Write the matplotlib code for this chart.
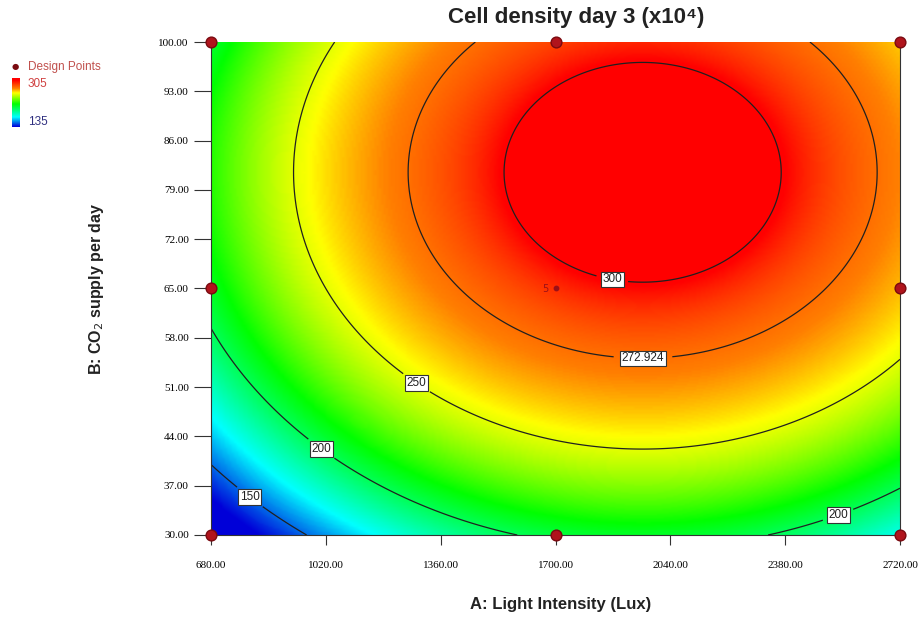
import numpy as np
import matplotlib
matplotlib.use("Agg")
from matplotlib import pyplot as plt
from matplotlib.colors import LinearSegmentedColormap

# axis ranges / ticks
a_ticks = [680, 1020, 1360, 1700, 2040, 2380, 2720]
b_ticks = [30, 37, 44, 51, 58, 65, 72, 79, 86, 93, 100]

# design points (A: light, B: CO2)
design_a = [680, 1700, 2720, 680, 2720, 680, 1700, 2720]
design_b = [100, 100, 100, 65, 65, 30, 30, 30]
centre_pt = (1700, 65)

# contour levels and their radius (in B units)
levels = [150, 200, 250, 272.924, 300]
radii = [63.9, 53.4, 39.3, 26.4, 15.6]
centre_a, centre_b = 1958, 81.5
stretch = 26.3  # lux per unit of B, ratio of the ellipse axes

# colour scale
vmin, vmax = 135, 305

# fit response vs radius
coef = np.polyfit(radii, levels, 4)

aa = np.linspace(680, 2720, 300)
bb = np.linspace(30, 100, 300)
A, B = np.meshgrid(aa, bb)
S = np.sqrt(((A - centre_a) / stretch) ** 2 + (B - centre_b) ** 2)
Z = np.polyval(coef, S)

cmap = LinearSegmentedColormap.from_list(
    "de", [(0.0, (0, 0, 0.85)), (0.2, (0, 1, 1)), (0.47, (0, 1, 0)),
           (0.70, (1, 1, 0)), (0.79, (1, 0.5, 0)), (0.96, (1, 0, 0)), (1.0, (1, 0, 0))])

fig = plt.figure(figsize=(9.18, 6.21), dpi=100)
ax = fig.add_axes([211 / 918, 86 / 621, 689 / 918, 493 / 621])

ax.imshow(Z, extent=[680, 2720, 30, 100], origin="lower", aspect="auto",
          cmap=cmap, vmin=vmin, vmax=vmax, interpolation="bilinear")
cs = ax.contour(A, B, Z, levels=levels, colors="#202020", linewidths=0.9)

label_pos = [(795, 35.4), (1018, 43), (2537, 32.8), (1284, 51.3), (1959, 55.5), (1870, 66.9)]
lbls = ax.clabel(cs, inline=True, fontsize=8.5, manual=label_pos,
                 fmt=lambda v: ("%.3f" % v) if v % 1 else "%d" % v)
for t in lbls:
    t.set_rotation(0)
    t.set_bbox(dict(facecolor="white", edgecolor="#333333", pad=1.2, linewidth=0.8))
    t.set_fontfamily("Liberation Sans")

ax.scatter(design_a, design_b, s=60, color="#b0141c", edgecolor="#7a0a10",
           zorder=5, clip_on=False)
ax.scatter([centre_pt[0]], [centre_pt[1]], s=10, color="#9a1018", zorder=5)
ax.text(centre_pt[0] - 20, centre_pt[1], "5", color="#9a1018", fontsize=7,
        ha="right", va="center")

ax.set_xlim(680, 2720)
ax.set_ylim(30, 100)
ax.set_xticks(a_ticks)
ax.set_yticks(b_ticks)
ax.set_xticklabels(["%.2f" % v for v in a_ticks], fontfamily="Liberation Serif", fontsize=8)
ax.set_yticklabels(["%.2f" % v for v in b_ticks], fontfamily="Liberation Serif", fontsize=8)
ax.tick_params(axis="x", direction="out", length=7, width=0.8, color="#333333", pad=12)
ax.tick_params(axis="y", direction="out", length=12, width=0.8, color="#333333", pad=4)
for s in ax.spines.values():
    s.set_color("#333333")
    s.set_linewidth(0.8)
ax.spines["top"].set_visible(False)

fig.text(576 / 918, 1 - 18 / 621, "Cell density day 3 (x10⁴)", fontfamily="Liberation Sans",
         fontweight="bold", fontsize=16, ha="center", va="center", color="#222222")
ax.set_xlabel("A: Light Intensity (Lux)", fontfamily="Liberation Sans",
              fontweight="bold", fontsize=12, labelpad=18, color="#222222")
ax.xaxis.set_label_coords((561 - 211) / 689, -0.125)
ax.set_ylabel("B: CO$_2$ supply per day", fontfamily="Liberation Sans",
              fontweight="bold", fontsize=11.5, labelpad=38, color="#222222")

# legend in top left corner
fig.text(15 / 918, 1 - 67 / 621, "\u25CF", color="#7a0a10", fontsize=6,
         ha="center", va="center")
fig.text(28 / 918, 1 - 67 / 621, "Design Points", color="#c0504d", fontsize=8.5,
         fontfamily="Liberation Sans", va="center")
cax = fig.add_axes([12 / 918, 1 - 127 / 621, 8 / 918, 49 / 621])
cax.imshow(np.linspace(0, 1, 100)[:, None], origin="lower", aspect="auto",
           cmap=cmap, extent=[0, 1, 0, 1])
cax.set_axis_off()
fig.text(28 / 918, 1 - 84 / 621, str(vmax), color="#d04040", fontsize=8.5,
         fontfamily="Liberation Sans", va="center")
fig.text(28 / 918, 1 - 122 / 621, str(vmin), color="#303080", fontsize=8.5,
         fontfamily="Liberation Sans", va="center")

fig.savefig("out.png", dpi=100)
